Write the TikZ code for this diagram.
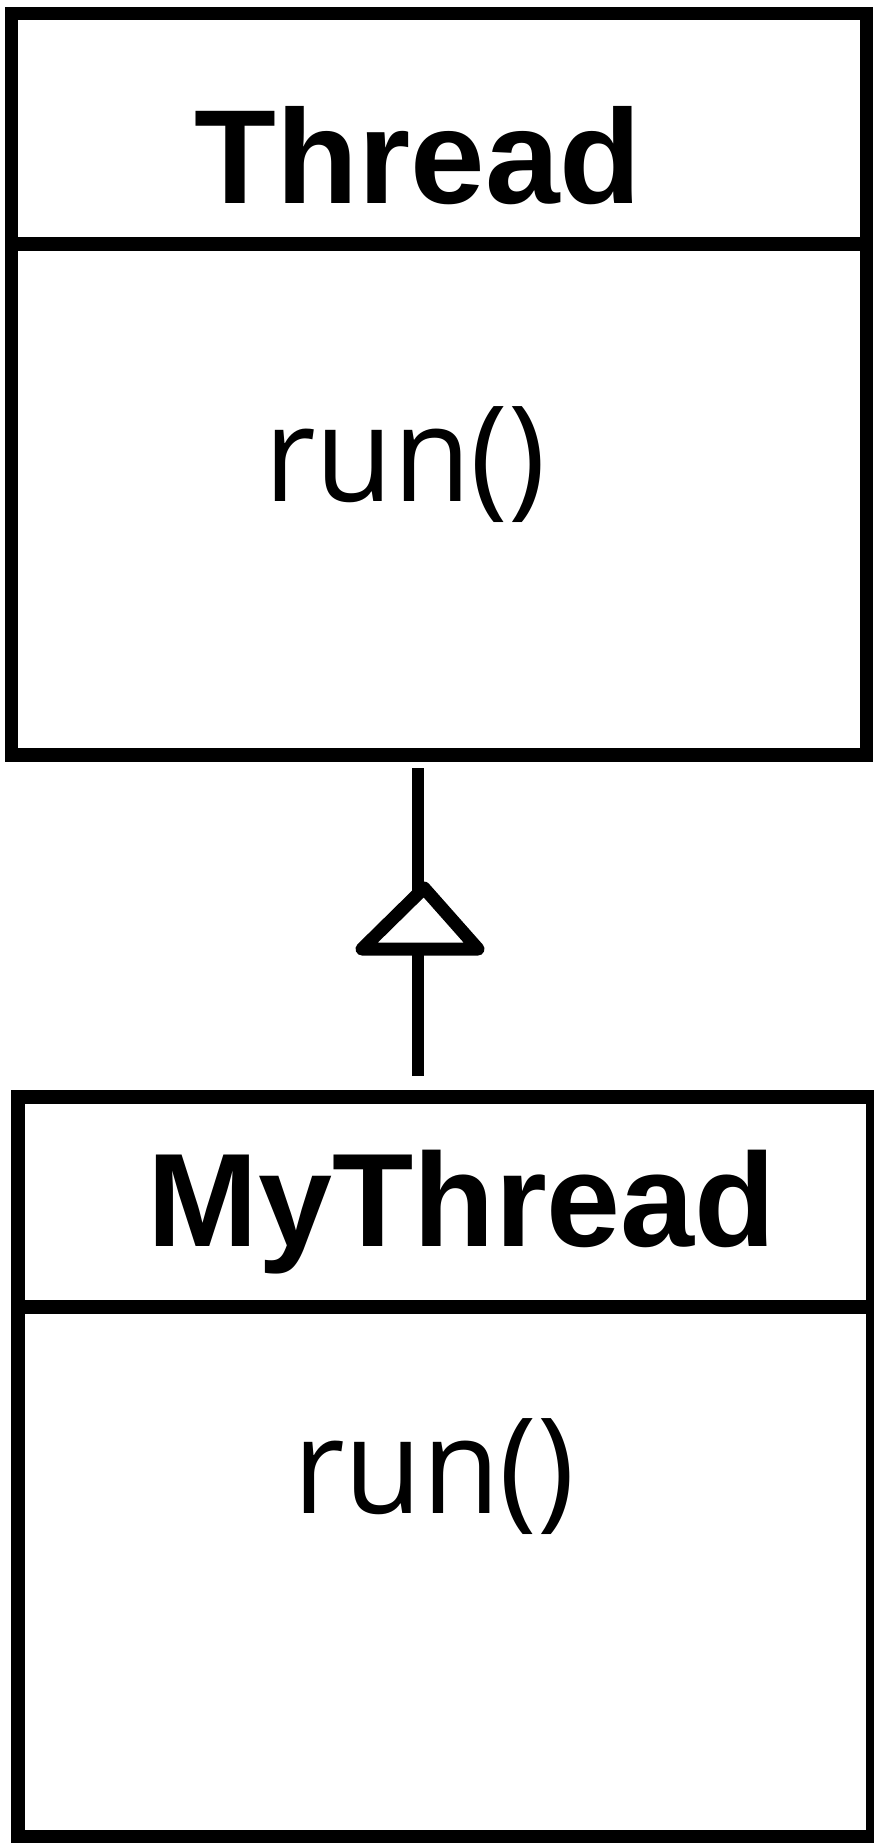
\documentclass[tikz,border=0pt]{standalone}
\usepackage{fontspec}
\newfontfamily\headfont{Liberation Sans}
\newfontfamily\opfont{Open Sans}[FakeStretch=0.95]
\begin{document}
\begin{tikzpicture}[x=1pt,y=-1pt,
  classbox/.style={draw, rectangle, line width=13.3pt, inner sep=0pt, outer sep=0pt,
                   minimum width=855pt},
  rule/.style={line width=13.3pt},
  link/.style={line width=12.7pt},
  arrowhead/.style={line width=13pt, line join=round},
  title/.style={font=\headfont\bfseries\fontsize{134}{134}\selectfont, inner sep=0pt, anchor=base},
  op/.style={font=\opfont\fontsize{133}{133}\selectfont, inner sep=0pt, anchor=base}]
  \useasboundingbox (0,0) rectangle (874,1843);

  % class boxes
  \node[classbox, minimum height=741.7pt] (thread) at (438.85,384.15) {};
  \node[classbox, minimum height=740pt] (mythread) at (445.5,1467) {};

  % compartment separators
  \coordinate (tsep) at (0,244);
  \coordinate (msep) at (0,1307);
  \draw[rule] (thread.west |- tsep) -- (thread.east |- tsep);
  \draw[rule] (mythread.west |- msep) -- (mythread.east |- msep);

  % names and operations
  \node[title] (threadname) at (418,203.3) {Thread};
  \node[op] (threadop) at (405,501.7) {run()};
  \node[title, font=\headfont\bfseries\fontsize{133}{133}\selectfont] (mythreadname) at (462,1246) {MyThread};
  \node[op] (mythreadop) at (434,1513.3) {run()};

  % generalization: MyThread inherits from Thread
  \coordinate (axis) at (418,0);
  \coordinate (apex) at (424,888);
  \coordinate (baseL) at (362,949);
  \coordinate (baseR) at (478,949);
  \coordinate (stem) at (418,893);
  \draw[link, shorten <=13pt] (thread.south -| axis) -- (stem);
  \draw[link, shorten <=21pt] (mythread.north -| axis) -- (axis |- baseL);
  \draw[arrowhead] (baseL) -- (apex) -- (baseR) -- cycle;
\end{tikzpicture}
\end{document}
